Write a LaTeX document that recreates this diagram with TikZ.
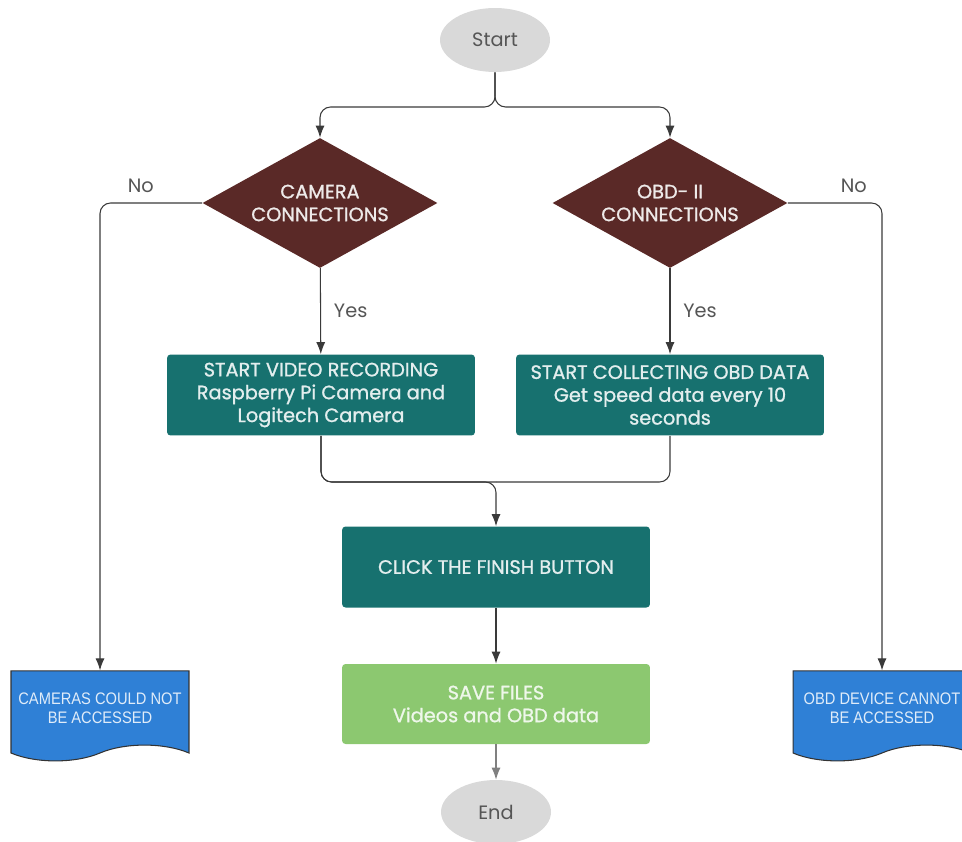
\documentclass[tikz,border=0pt]{standalone}
\usepackage{fontspec}
\setmainfont{Poppins}
\newfontfamily\boxfont[FakeBold=1.1]{Poppins}
\newfontfamily\arialfont[FakeStretch=0.88]{Liberation Sans}
\usetikzlibrary{shapes.geometric, shapes.symbols, arrows.meta}

\definecolor{startgray}{HTML}{D9D9D9}
\definecolor{decbrown}{HTML}{5A2927}
\definecolor{stepteal}{HTML}{17716F}
\definecolor{savegreen}{HTML}{8CC870}
\definecolor{failblue}{HTML}{2F80D6}
\definecolor{linegray}{HTML}{3A3A3A}
\definecolor{labelgray}{HTML}{555555}

\begin{document}
\begin{tikzpicture}[x=0.02cm, y=-0.02cm,
    every node/.style={align=center, font=\fontsize{11}{13}\selectfont},
    terminal/.style={ellipse, fill=startgray, text=labelgray, minimum width=2.2cm, minimum height=1.28cm},
    decision/.style={diamond, fill=decbrown, text=white!90!decbrown, font=\boxfont\fontsize{11}{13}\selectfont, aspect=1.8, inner sep=0pt, minimum width=4.7cm, minimum height=2.6cm},
    process/.style={rectangle, rounded corners=2pt, fill=stepteal, text=white!88!stepteal, font=\boxfont\fontsize{11}{13}\selectfont, minimum width=6.16cm, minimum height=1.62cm},
    savebox/.style={rectangle, rounded corners=2pt, fill=savegreen, text=white!85!savegreen, font=\boxfont\fontsize{11}{13}\selectfont, minimum width=6.16cm, minimum height=1.6cm},
    failbox/.style={tape, tape bend top=none, tape bend bottom=in and out, tape bend height=9pt, fill=failblue, draw=black!80, line width=0.6pt, text=white!85!failblue, font=\arialfont\fontsize{9.5}{11}\selectfont, minimum width=3.56cm, minimum height=1.8cm, inner sep=1pt},
    flow/.style={draw=linegray, line width=0.6pt, rounded corners=6pt, -{Latex[length=2.4mm, width=1.8mm]}},
    joinline/.style={draw=linegray, line width=0.6pt, rounded corners=6pt},
    answer/.style={text=labelgray, font=\fontsize{11}{13}\selectfont}]

\useasboundingbox (0,0) rectangle (962,841);

\node[terminal] (start) at (495,40) {Start};
\node[decision] (cam) at (320,203) {CAMERA\\CONNECTIONS};
\node[decision] (obd) at (670,203) {OBD- II\\CONNECTIONS};
\node[process] (rec) at (321,395) {START VIDEO RECORDING\\Raspberry Pi Camera and\\Logitech Camera};
\node[process] (collect) at (670,395) {START COLLECTING OBD DATA\\Get speed data every 10\\seconds};
\node[process] (click) at (496,567) {CLICK THE FINISH BUTTON};
\node[savebox] (save) at (496,704) {SAVE FILES\\Videos and OBD data};
\node[terminal] (end) at (496,812) {End};
\node[failbox] (camfail) at (100,708) {CAMERAS COULD NOT\\BE ACCESSED};
\node[failbox] (obdfail) at (882,708) {OBD DEVICE CANNOT\\BE ACCESSED};

\coordinate (split) at (495,107);
\coordinate (merge) at (496,482);

\draw[flow] (start) -- (split) -| (cam);
\draw[flow] (start) -- (split) -| (obd);
\draw[flow] (cam) -- node[answer, right=4pt] {Yes} (rec);
\draw[flow] (obd) -- node[answer, right=4pt] {Yes} (collect);
\draw[flow] (cam.west) -| node[answer, pos=0.3, above=2pt] {No} (camfail.north);
\draw[flow] (obd.east) -| node[answer, pos=0.35, above=2pt] {No} (obdfail.north);
\draw[joinline] (rec.south) |- (merge);
\draw[joinline] (collect.south) |- (merge);
\draw[flow] (rec.south) |- (merge) -- (click);
\draw[flow] (click) -- (save);
\draw[flow, draw=gray] (save) -- (end);

\end{tikzpicture}
\end{document}
